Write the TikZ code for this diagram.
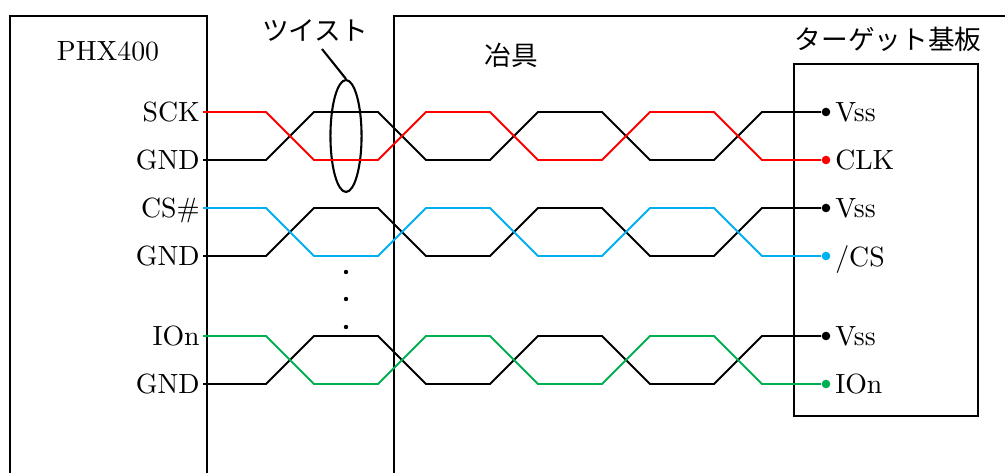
\documentclass[tikz,border=0pt]{standalone}
\usepackage{fontspec}
\newfontfamily\jpfont{Noto Sans CJK JP}
\usetikzlibrary{positioning}
\usetikzlibrary{shapes.geometric}
\definecolor{sigred}{RGB}{255,0,0}
\definecolor{sigblue}{RGB}{0,176,240}
\definecolor{siggreen}{RGB}{0,176,80}

\begin{document}
\begin{tikzpicture}[x=0.36pt, y=-0.36pt,
    box/.style={draw, line width=0.75pt},
    wire/.style={line width=0.7pt},
    jp/.style={font=\fontsize{9.6}{11}\jpfont},
    pin/.style={anchor=east, inner sep=1pt, text depth=0pt},
    pad/.style={circle, fill, inner sep=0pt, minimum size=3.1pt},
    padlabel/.style={anchor=west, inner sep=1pt, text depth=0pt}]
    \clip (0,0) rectangle (1005,473);
    % boxes
    \draw[box] (10,16) rectangle (207,490);
    \draw[box] (394,16) rectangle (1020,490);
    \draw[box] (794,64) rectangle (978,416);
    \node at (108,51) {PHX400};
    \node[jp] at (511,55) {冶具};
    \node[jp] at (888,39) {ターゲット基板};
    % twist mark
    \node[jp] (twist) at (315,31) {ツイスト};
    \node[draw, ellipse, line width=0.75pt, inner sep=0pt,
          minimum width=11.2pt, minimum height=40.3pt] (ring) at (346,136) {};
    \coordinate (tip) at (322,49);
    \draw[line width=0.75pt] (ring.north) -- (tip);
    \foreach \d in {272,299,327}
        \fill (346,\d) circle [radius=2.2];
    % twisted pairs
    \foreach \y/\col/\sig/\pad [count=\i] in {112/sigred/SCK/CLK, 208/sigblue/{CS\#}/{/CS}, 336/siggreen/IOn/IOn} {
        \node[pin] (sig\i) at (203,\y) {\sig};
        \node[pin] (gnd\i) at (203,\y+48) {GND};
        \node[pad] (v\i) at (826,\y) {};
        \node[padlabel, right=0.4pt of v\i] {Vss};
        \node[pad, \col] (p\i) at (826,\y+48) {};
        \node[padlabel, right=0.4pt of p\i] {\pad};
        \draw[wire] (gnd\i.east) -- ++(63,0) -- ++(48,-48) -- ++(64,0) -- ++(48,48) -- ++(64,0)
            -- ++(48,-48) -- ++(64,0) -- ++(48,48) -- ++(64,0) -- ++(48,-48) -- (v\i);
        \draw[wire, \col] (sig\i.east) -- ++(63,0) -- ++(48,48) -- ++(64,0) -- ++(48,-48) -- ++(64,0)
            -- ++(48,48) -- ++(64,0) -- ++(48,-48) -- ++(64,0) -- ++(48,48) -- (p\i);
    }
\end{tikzpicture}
\end{document}
